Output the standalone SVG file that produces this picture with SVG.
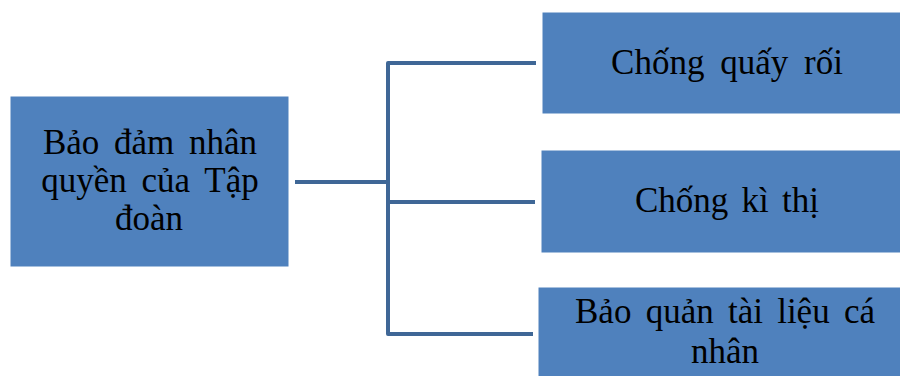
<svg xmlns="http://www.w3.org/2000/svg" width="900" height="376" viewBox="0 0 900 376">
  <style>
    .box { fill: #4f81bd; stroke: #ffffff; stroke-width: 1; }
    .label { font-family: "Liberation Serif", "Times New Roman", serif; font-size: 35px; fill: #000000; text-anchor: middle; }
    .link { fill: none; stroke: #3f6796; stroke-width: 4; stroke-linejoin: round; stroke-linecap: butt; }
  </style>
  <rect x="0" y="0" width="900" height="376" fill="#ffffff"/>

  <g id="connectors">
    <path class="link" d="M295 182 H388"/>
    <path class="link" d="M536 63 H388 V334 H533"/>
    <path class="link" d="M388 202 H535"/>
  </g>

  <g id="node-root">
    <rect class="box" x="10" y="96" width="279" height="171"/>
    <text class="label" x="150" y="154" word-spacing="6">Bảo đảm nhân</text>
    <text class="label" x="150" y="192" word-spacing="6">quyền của Tập</text>
    <text class="label" x="149" y="230">đoàn</text>
  </g>

  <g id="node-harassment">
    <rect class="box" x="542" y="12" width="370" height="102"/>
    <text class="label" x="727" y="74" word-spacing="7">Chống quấy rối</text>
  </g>

  <g id="node-discrimination">
    <rect class="box" x="541" y="150" width="370" height="103"/>
    <text class="label" x="727" y="212" word-spacing="4.5">Chống kì thị</text>
  </g>

  <g id="node-records">
    <rect class="box" x="538" y="287" width="370" height="100"/>
    <text class="label" x="725" y="323" word-spacing="5.5">Bảo quản tài liệu cá</text>
    <text class="label" x="725" y="363">nhân</text>
  </g>
</svg>
